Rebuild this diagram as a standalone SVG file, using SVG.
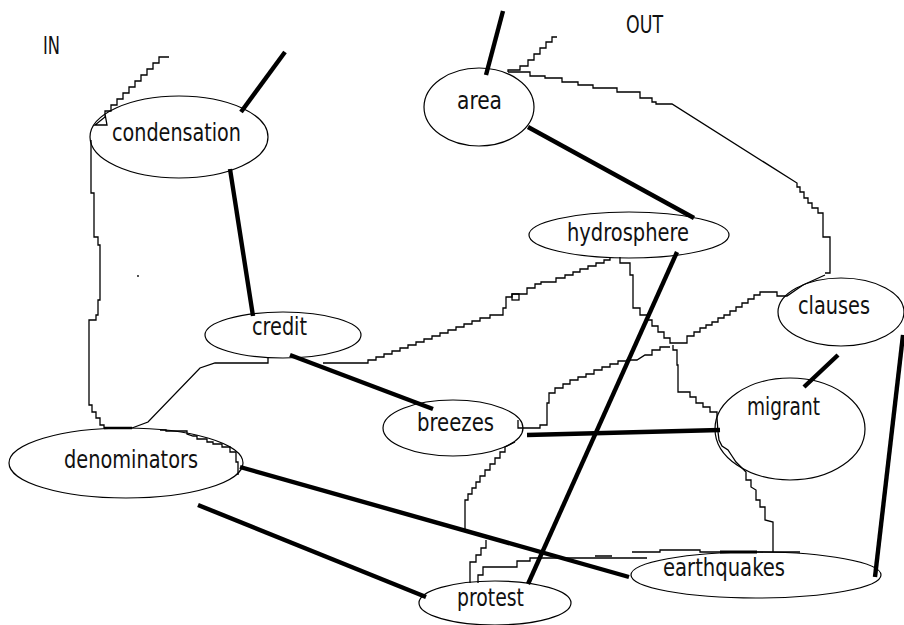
<svg xmlns="http://www.w3.org/2000/svg" width="904" height="625" viewBox="0 0 904 625">
<style>
.n{fill:none;stroke:#000;stroke-width:1.2}
.t{font-family:"Liberation Sans Narrow","DejaVu Sans Condensed","Liberation Sans",sans-serif;font-size:25px;fill:#111}
.k{stroke:#000;stroke-width:4.4;stroke-linecap:butt;fill:none}
.j{fill:none;stroke:#000;stroke-width:1.3}
</style>
<rect width="904" height="625" fill="#fff"/>
<text class="t" x="43" y="54" textLength="17" lengthAdjust="spacingAndGlyphs">IN</text>
<text class="t" x="626" y="33" textLength="37" lengthAdjust="spacingAndGlyphs">OUT</text>
<g id="connectors">
<line class="k" x1="285" y1="52" x2="241" y2="112"/>
<line class="k" x1="230" y1="169" x2="253" y2="316"/>
<line class="k" x1="503" y1="11" x2="486" y2="75"/>
<line class="k" x1="528" y1="127" x2="694" y2="218"/>
<line class="k" x1="677" y1="252" x2="528" y2="584"/>
<line class="k" x1="290" y1="355" x2="433" y2="409"/>
<line class="k" x1="527" y1="435" x2="720" y2="430"/>
<line class="k" x1="838" y1="355" x2="804" y2="387"/>
<line class="k" x1="903" y1="335" x2="875" y2="577"/>
<line class="k" x1="240" y1="467" x2="629" y2="577"/>
<line class="k" x1="198" y1="505" x2="426" y2="597"/>
<path class="j" d="M169,57 H159 V63 H153 V69 H147 V75 H141 V81 H135 V87 H129 V93 H123 V99 H117 V105 H111 V111 H105 V117 L95,125 H107 L105,114"/>
<path class="j" d="M91,140 V193 H94 V237 H98 V245 H100 V300 H98 V315 H96 V320 H89 V405 H92 V412 H96 V418 H100 V425 H104 V428 H132"/>
<line x1="104" y1="428" x2="132" y2="428" stroke="#000" stroke-width="2.5"/>
<path class="j" d="M132,428 L148,422 L200,368 L215,363 H268 V358"/>
<path class="j" d="M160,430 H166 V431 H187 V434 L193,436 H197 V439 H207 V442 H213 V444 H222 V447 H230 V452 H236 V462 H238 V475"/>
<path class="j" d="M323,363 H368 V360 H376 V357 H384 V354 H392 V351 H400 V348 H408 V345 H416 V342 H424 V339 H432 V336 H440 V333 H448 V330 H456 V327 H464 V324 H472 V321 H480 V318 H490 V315 H503 V308 H506 V297 H512 V294 H527 V288 H535 V284 H541 V282 H556 V278 H565 V275 H573 V272 H580 V269 H588 V266 H596 V263 H604 V260 H610 V257"/>
<rect class="j" x="512" y="294" width="7" height="6"/>
<path class="j" d="M620,257 V263 H630 V275 H633 V308 H640 V315 H647 V320 H652 V326 H658 V332 H664 V338 H670 V343 H673"/>
<path class="j" d="M673,343 H687 V336 H694 V332 H700 V328 H706 V325 H712 V322 H718 V318 H724 V315 H730 V311 H736 V307 H742 V303 H748 V299 H754 V295 H760 V292 H777 V296 H787 L803,285 L825,275"/>
<path class="j" d="M508,72 H530 V76 H545 V78 H562 V82 H578 V85 H593 V88 H617 V92 H640 V98 H652 V102 H656 V104 H672 L797,183 V187 H800 V192 H804 V198 H808 V203 H812 V208 H818 V213 H823 V237 H830 V273 H825"/>
<path class="j" d="M557,37 H552 V42 H546 V48 H540 V54 H534 V60 H528 V66 H520 V70 H508 V72"/>
<path class="j" d="M673,345 V350 H677 V365 H678 V392 H690 V397 H696 V403 H703 V407 H710 V412 H717 V418 L718,432 L719,440 L722,446 L728,450 L732,456 L736,462 L741,467 L746,472 V480 H751 V487 L756,490 V500 H760 V507 H765 V520 L773,522 V552"/>
<path class="j" d="M518,420 V428 H540 V425 H547 V403 H549 V393 H555 V388 H563 V384 H570 V380 H578 V377 H586 V374 H594 V370 H602 V367 H610 V364 H618 V361 H627 V360 H637 L645,355 H652 V350 H660 V347 H670"/>
<path class="j" d="M515,442 L505,447 V452 H500 V458 H495 V464 H490 V470 H485 V476 H480 V482 H476 V488 H472 V494 H468 V500 H465 V530"/>
<path class="j" d="M486,540 V548 H481 V555 H476 V562 H470 V583"/>
<path class="j" d="M478,583 V575 H483 V567 H517 V561 H530 V558 H647"/>
<path class="j" d="M595,556 H612 M632,552 H660 V550 H700 V552 H720 M757,552 H800"/>
<line x1="720" y1="552" x2="757" y2="552" stroke="#000" stroke-width="3"/>
<circle cx="138" cy="276" r="0.9" fill="#000"/>
</g>
<g id="condensation"><ellipse class="n" cx="179" cy="137" rx="89" ry="41"/><text class="t" x="112" y="141" textLength="129" lengthAdjust="spacingAndGlyphs">condensation</text></g>
<g id="area"><ellipse class="n" cx="479" cy="107" rx="55" ry="39"/><text class="t" x="457" y="109" textLength="45" lengthAdjust="spacingAndGlyphs">area</text></g>
<g id="hydrosphere"><ellipse class="n" cx="629" cy="235" rx="100" ry="23"/><text class="t" x="567" y="241" textLength="122" lengthAdjust="spacingAndGlyphs">hydrosphere</text></g>
<g id="credit"><ellipse class="n" cx="283" cy="335" rx="78" ry="23"/><text class="t" x="252" y="335" textLength="55" lengthAdjust="spacingAndGlyphs">credit</text></g>
<g id="breezes"><ellipse class="n" cx="453" cy="428" rx="70" ry="28"/><text class="t" x="417" y="431" textLength="77" lengthAdjust="spacingAndGlyphs">breezes</text></g>
<g id="denominators"><ellipse class="n" cx="126" cy="463" rx="117" ry="35"/><text class="t" x="64" y="468" textLength="134" lengthAdjust="spacingAndGlyphs">denominators</text></g>
<g id="clauses"><ellipse class="n" cx="841" cy="312" rx="63" ry="34"/><text class="t" x="798" y="314" textLength="72" lengthAdjust="spacingAndGlyphs">clauses</text></g>
<g id="migrant"><ellipse class="n" cx="790" cy="429" rx="75" ry="51"/><text class="t" x="747" y="415" textLength="73" lengthAdjust="spacingAndGlyphs">migrant</text></g>
<g id="earthquakes"><ellipse class="n" cx="756" cy="575" rx="125" ry="23"/><text class="t" x="663" y="576" textLength="122" lengthAdjust="spacingAndGlyphs">earthquakes</text></g>
<g id="protest"><ellipse class="n" cx="495" cy="603" rx="76" ry="22"/><text class="t" x="457" y="606" textLength="67" lengthAdjust="spacingAndGlyphs">protest</text></g>
</svg>
